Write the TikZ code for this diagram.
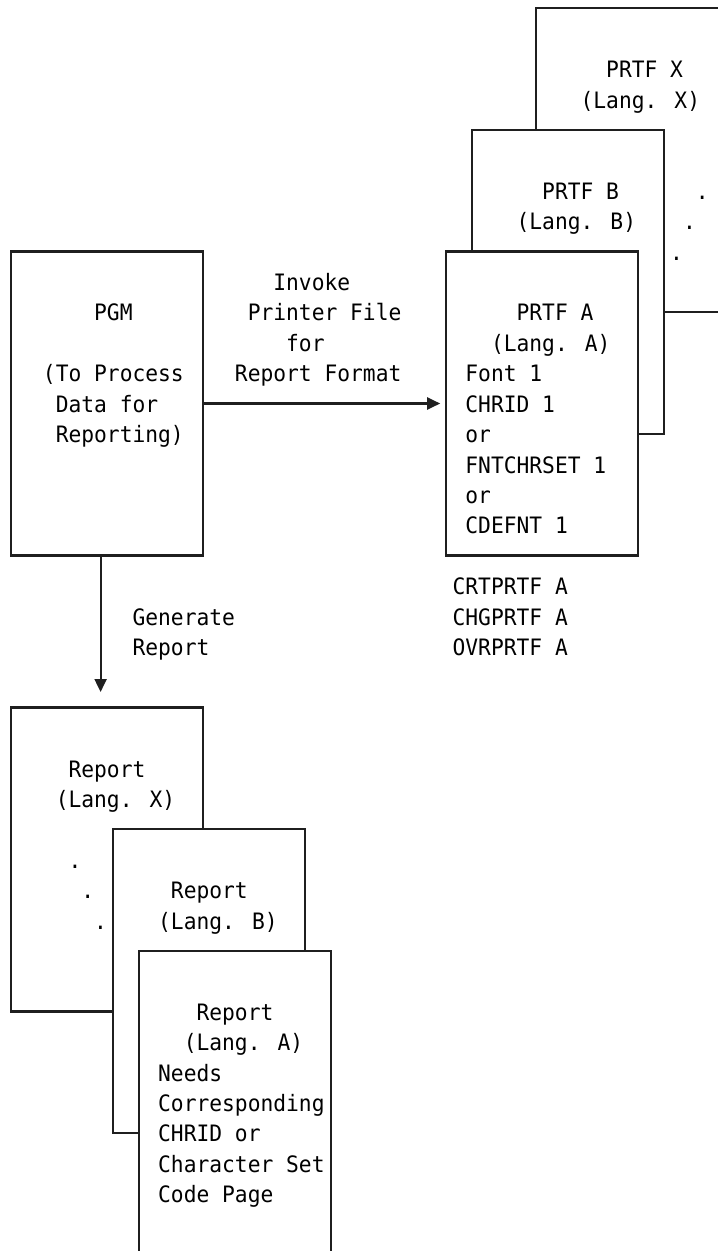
\documentclass[tikz,border=0pt]{standalone}
\usepackage{fontspec}
\newfontfamily\monof[FakeStretch=0.9408]{DejaVu Sans Mono}
\usetikzlibrary{arrows.meta}
\begin{document}
\begin{tikzpicture}[x=12.8pt, y=-30.4pt,
  box/.style={draw=black!88, line width=2.1pt, fill=white, rectangle, inner sep=0pt, outer sep=0pt, minimum width=192pt, minimum height=304pt},
  txt/.style={anchor=base west, inner sep=0pt, outer sep=0pt, font=\monof\fontsize{22.6pt}{30.4pt}\selectfont, text=black},
  arr/.style={draw=black!88, line width=2.1pt, -{Triangle[length=13pt,width=12pt]}}]
\useasboundingbox (-0.859,-8.273) rectangle (55.234,32.878);
\clip (-0.859,-8.273) rectangle (55.234,32.878);

% printer file stack
\node[box, minimum width=243.2pt] (prtfX) at (50.5,-3) {};
\node[box] (prtfB) at (43.5,1) {};
\node[box] (prtfA) at (41.5,5) {};
% program
\node[box] (pgm) at (7.5,5) {};
% report stack
\node[box] (reportX) at (7.5,20) {};
\node[box] (reportB) at (15.5,24) {};
\node[box, minimum height=364.8pt] (reportA) at (17.5,29) {};

% connectors
\draw[arr, shorten >=6pt] (pgm.east |- prtfA.west) -- (prtfA.west);
\coordinate (genTip) at (7,14.49);
\draw[arr] (pgm.south -| genTip) -- (genTip);

% PRTF X
\node[txt] (tX1) at (46.5,-5.714) {PRTF X};
\node[txt] (tX2) at (44.5,-4.714) {(Lang. X)};
% PRTF B
\node[txt] (tB1) at (41.5,-1.714) {PRTF B};
\node[txt] (tB2) at (39.5,-0.714) {(Lang. B)};
\node[txt] (dP1) at (53.5,-1.714) {.};
\node[txt] (dP2) at (52.5,-0.714) {.};
\node[txt] (dP3) at (51.5,0.286) {.};
% PRTF A
\node[txt] (tA1) at (39.5,2.286) {PRTF A};
\node[txt] (tA2) at (37.5,3.286) {(Lang. A)};
\node[txt] (tA3) at (35.5,4.286) {Font 1};
\node[txt] (tA4) at (35.5,5.286) {CHRID 1};
\node[txt] (tA5) at (35.5,6.286) {or};
\node[txt] (tA6) at (35.5,7.286) {FNTCHRSET 1};
\node[txt] (tA7) at (35.5,8.286) {or};
\node[txt] (tA8) at (35.5,9.286) {CDEFNT 1};
% commands
\node[txt] (c1) at (34.5,11.286) {CRTPRTF A};
\node[txt] (c2) at (34.5,12.286) {CHGPRTF A};
\node[txt] (c3) at (34.5,13.286) {OVRPRTF A};
% invoke label
\node[txt] (i1) at (20.5,1.286) {Invoke};
\node[txt] (i2) at (18.5,2.286) {Printer File};
\node[txt] (i3) at (21.5,3.286) {for};
\node[txt] (i4) at (17.5,4.286) {Report Format};
% PGM
\node[txt] (p1) at (6.5,2.286) {PGM};
\node[txt] (p2) at (2.5,4.286) {(To Process};
\node[txt] (p3) at (3.5,5.286) {Data for};
\node[txt] (p4) at (3.5,6.286) {Reporting)};
% generate label
\node[txt] (g1) at (9.5,12.286) {Generate};
\node[txt] (g2) at (9.5,13.286) {Report};
% Report X
\node[txt] (rX1) at (4.5,17.286) {Report};
\node[txt] (rX2) at (3.5,18.286) {(Lang. X)};
\node[txt] (dR1) at (4.5,20.286) {.};
\node[txt] (dR2) at (5.5,21.286) {.};
\node[txt] (dR3) at (6.5,22.286) {.};
% Report B
\node[txt] (rB1) at (12.5,21.286) {Report};
\node[txt] (rB2) at (11.5,22.286) {(Lang. B)};
% Report A
\node[txt] (rA1) at (14.5,25.286) {Report};
\node[txt] (rA2) at (13.5,26.286) {(Lang. A)};
\node[txt] (rA3) at (11.5,27.286) {Needs};
\node[txt] (rA4) at (11.5,28.286) {Corresponding};
\node[txt] (rA5) at (11.5,29.286) {CHRID or};
\node[txt] (rA6) at (11.5,30.286) {Character Set};
\node[txt] (rA7) at (11.5,31.286) {Code Page};
\end{tikzpicture}
\end{document}
